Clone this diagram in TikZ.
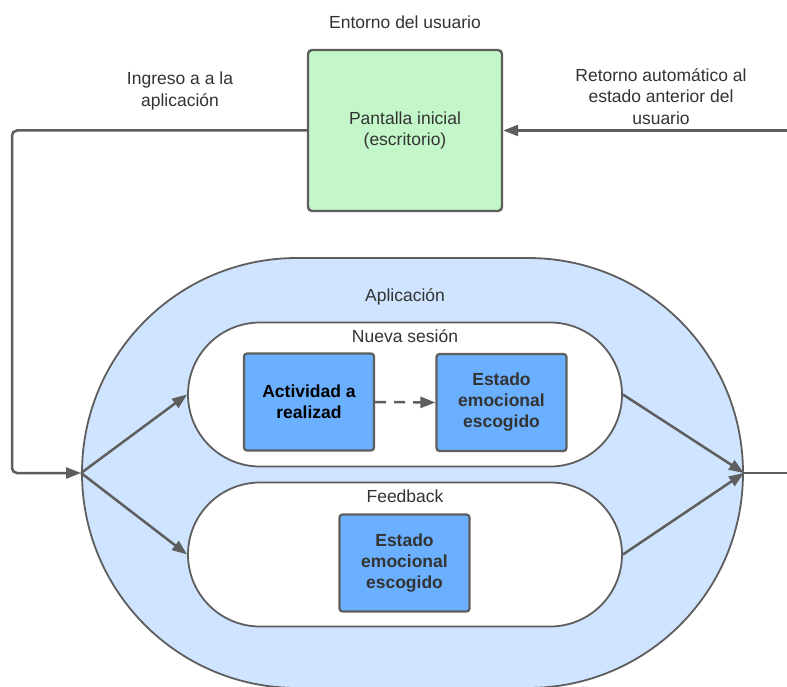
\documentclass[tikz,border=0pt]{standalone}
\usepackage{fontspec}
\setmainfont{Liberation Sans}
\usetikzlibrary{arrows.meta,shapes.misc}
\definecolor{linegray}{HTML}{5E5E5E}
\definecolor{txtgray}{HTML}{333333}
\definecolor{screengreen}{HTML}{C3F6C9}
\definecolor{appblue}{HTML}{CFE4FF}
\definecolor{stateblue}{HTML}{6BAFFF}
\tikzset{
  every node/.style={font=\fontsize{17.5}{21.5}\selectfont, text=txtgray},
  caption/.style={align=center, inner sep=0pt},
  screenbox/.style={draw=linegray, line width=2.4pt, fill=screengreen, rounded corners=4pt,
    minimum width=194pt, minimum height=161pt, align=center, inner sep=0pt},
  appshape/.style={draw=linegray, line width=1.8pt, fill=appblue, rounded rectangle,
    minimum width=661pt, minimum height=430pt, inner sep=0pt},
  laneshape/.style={draw=linegray, line width=1.8pt, fill=white, rounded rectangle,
    minimum width=434pt, minimum height=144pt, inner sep=0pt},
  statebox/.style={draw=linegray, line width=2.2pt, fill=stateblue, rounded corners=3pt,
    minimum width=130pt, minimum height=97pt, align=center, inner sep=0pt,
    font=\fontsize{17.5}{21}\selectfont\bfseries},
  conn/.style={draw=linegray, line width=2.5pt},
  arrowed/.style={conn, -{Triangle[length=15pt,width=11pt]}},
}
\begin{document}
\begin{tikzpicture}[x=1pt,y=-1pt]
\clip (0,0) rectangle (787,687);
\fill[white] (0,0) rectangle (787,687);

% user environment
\node[caption] (envlabel) at (405,22) {Entorno del usuario};
\node[screenbox] (screen) at (405,130.5) {Pantalla inicial\\(escritorio)};
\node[caption] (inlabel) at (180,91) {Ingreso a a la\\aplicación};
\node[caption] (retlabel) at (661,96.5) {Retorno automático al\\estado anterior del\\usuario};

% application container and its two lanes
\node[appshape] (app) at (412.5,473) {};
\node[caption] (applabel) at (405,297) {Aplicación};
\node[laneshape] (session) at (405,394.5) {};
\node[caption] (sessionlabel) at (405,336) {Nueva sesión};
\node[laneshape] (feedback) at (405,554.5) {};
\node[caption] (feedbacklabel) at (405,496) {Feedback};

% state boxes
\node[statebox, text=black] (activity) at (309,402) {Actividad a\\realizad};
\node[statebox] (mood) at (501.5,402.5) {Estado\\emocional\\escogido};
\node[statebox] (moodfb) at (404.5,563) {Estado\\emocional\\escogido};

% anchor points on the outer edges
\coordinate (leftrail) at (12,0);
\coordinate (rightedge) at (787,130.5);

% connectors
\draw[arrowed, rounded corners=5pt] (screen.west) -- (screen.west -| leftrail) |- (app.west);
\draw[arrowed] (rightedge) -- (screen.east);
\draw[arrowed] (app.west) -- (session.west);
\draw[arrowed] (app.west) -- (feedback.west);
\draw[arrowed] (session.east) -- (app.east);
\draw[arrowed] (feedback.east) -- (app.east);
\draw[conn] (app.east) -- (app.east -| rightedge);
\draw[arrowed, dash pattern=on 11pt off 8pt] (activity.east) -- (mood.west);
\end{tikzpicture}
\end{document}
